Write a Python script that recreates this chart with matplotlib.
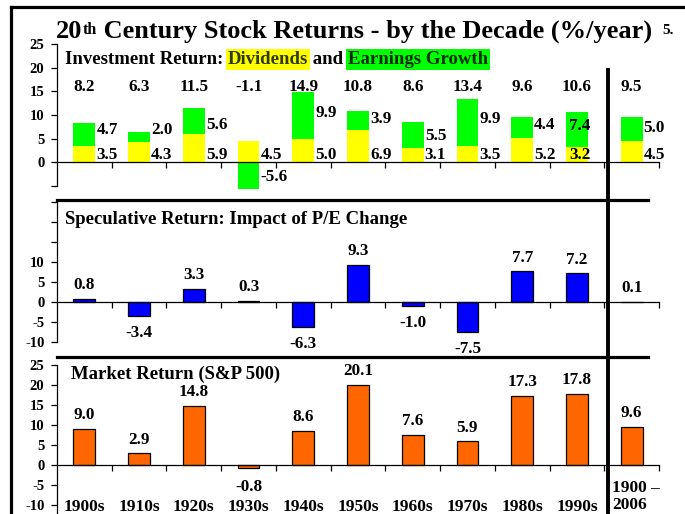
import matplotlib
matplotlib.use('Agg')
import matplotlib.pyplot as plt
from matplotlib.lines import Line2D

# ---------------- data ----------------
decades = ['1900s', '1910s', '1920s', '1930s', '1940s', '1950s', '1960s',
           '1970s', '1980s', '1990s']
overall_label = '1900 –\n2006'
dividends = [3.5, 4.3, 5.9, 4.5, 5.0, 6.9, 3.1, 3.5, 5.2, 3.2, 4.5]
earnings_growth = [4.7, 2.0, 5.6, -5.6, 9.9, 3.9, 5.5, 9.9, 4.4, 7.4, 5.0]
investment_total = [8.2, 6.3, 11.5, -1.1, 14.9, 10.8, 8.6, 13.4, 9.6, 10.6, 9.5]
speculative = [0.8, -3.4, 3.3, 0.3, -6.3, 9.3, -1.0, -7.5, 7.7, 7.2, 0.1]
market = [9.0, 2.9, 14.8, -0.8, 8.6, 20.1, 7.6, 5.9, 17.3, 17.8, 9.6]

# label placement (layout only)
earn_label_y = [6.8, 6.8, 7.8, -3.2, 10.4, 9.1, 5.5, 9.1, 7.8, 7.6, 7.2]

plt.rcParams['font.family'] = ['Liberation Serif', 'DejaVu Serif']
plt.rcParams['font.weight'] = 'bold'

W, H = 685, 514
fig = plt.figure(figsize=(W / 100, H / 100), dpi=100)
fig.patch.set_facecolor('white')


def fx(px):
    return px / W


def fy(py):
    return 1 - py / H


YELLOW = '#FFFF00'
GREEN = '#00FF00'
BLUE = '#0000FF'
ORANGE = '#FF6600'

n = len(dividends)
xs = list(range(n))
bw = 0.40
VAL_FS = 12.3
TICK_FS = 10.5
SUB_FS = 13.5


def setup(ax, ylim, yticks, ylabels, bounds):
    ax.set_xlim(-0.5, 10.5)
    ax.set_ylim(*ylim)
    ax.set_facecolor('none')
    for s in ['top', 'right']:
        ax.spines[s].set_visible(False)
    ax.spines['bottom'].set_position(('data', 0))
    ax.spines['left'].set_bounds(*bounds)
    for s in ['bottom', 'left']:
        ax.spines[s].set_linewidth(0.9)
    ax.set_xticks([k + 0.5 for k in range(11)])
    ax.set_xticklabels([])
    ax.tick_params(axis='x', direction='out', length=4, width=0.9)
    ax.set_yticks(yticks)
    ax.set_yticklabels(ylabels, fontsize=TICK_FS, fontweight='bold')
    ax.tick_params(axis='y', direction='out', length=4, width=0.9, pad=5)


# ---------------- panel 1 ----------------
ax1 = fig.add_axes([fx(57), fy(190.6), 602 / W, 146.6 / H])
setup(ax1, (-6, 25), list(range(-5, 26, 5)),
      [''] + [str(v) for v in range(0, 26, 5)], (-5, 25))
ax1.bar(xs, dividends, width=bw, color=YELLOW, edgecolor='none', zorder=2)
earn_bottom = [d if e >= 0 else 0 for d, e in zip(dividends, earnings_growth)]
ax1.bar(xs, earnings_growth, width=bw, bottom=earn_bottom, color=GREEN,
        edgecolor='none', zorder=2)
for i in xs:
    dx = 0.22 if i != 9 else -0.14
    ax1.text(i + dx, earn_label_y[i], f'{earnings_growth[i]:.1f}', ha='left',
             va='center', fontsize=VAL_FS, zorder=5)
    ax1.text(i + dx, 1.6, f'{dividends[i]:.1f}', ha='left', va='center',
             fontsize=VAL_FS, zorder=5)
    ax1.text(i, 16.0, f'{investment_total[i]:.1f}', ha='center', va='center',
             fontsize=VAL_FS)

# ---------------- panel 2 ----------------
ax2 = fig.add_axes([fx(57), fy(342), 602 / W, 142 / H])
setup(ax2, (-10, 25.5), list(range(-10, 26, 5)),
      [str(v) for v in range(-10, 11, 5)] + ['', '', ''], (-10, 25.5))
ax2.bar(xs, speculative, width=bw, color=BLUE, edgecolor='black',
        linewidth=0.9, zorder=2)
for i in xs:
    v = speculative[i]
    y = v + 3.4 if v >= 0 else v - 4.3
    ax2.text(i, y, f'{v:.1f}', ha='center', va='center', fontsize=VAL_FS)

# ---------------- panel 3 ----------------
ax3 = fig.add_axes([fx(57), fy(505), 602 / W, 140 / H])
setup(ax3, (-10, 25), list(range(-10, 26, 5)),
      [str(v) for v in range(-10, 26, 5)], (-12, 25))
ax3.bar(xs, market, width=bw, color=ORANGE, edgecolor='black',
        linewidth=0.9, zorder=2)
for i in xs:
    v = market[i]
    y = v + 3.4 if v >= 0 else v - 4.7
    ax3.text(i, y, f'{v:.1f}', ha='center', va='center', fontsize=VAL_FS)
for i, lab in enumerate(decades):
    ax3.text(i, -10.6, lab, ha='center', va='center', fontsize=12.5,
             clip_on=False)
ax3.text(9.64, -7.8, overall_label, ha='left', va='center', fontsize=12.5,
         linespacing=1.1, clip_on=False)

# ---------------- titles ----------------
t0 = fig.text(fx(56), fy(38), '20', fontsize=19, va='baseline')
t1 = ax1.annotate('th', xy=(1, 0.93), xycoords=t0, va='top', ha='left',
                  fontsize=11.5)
ax1.annotate(' Century Stock Returns - by the Decade (%/year)', xy=(1, 0),
             xycoords=(t1, t0), va='bottom', ha='left', fontsize=19)
fig.text(fx(662), fy(31), '5.', fontsize=11, va='center')

s0 = fig.text(fx(65), fy(64), 'Investment Return: ', fontsize=SUB_FS,
              va='baseline')
s1 = ax1.annotate('Dividends', xy=(1, 0), xycoords=s0, va='bottom',
                  fontsize=SUB_FS, color='#2E3A00',
                  bbox=dict(facecolor=YELLOW, edgecolor='none', pad=1.5))
s2 = ax1.annotate(' and ', xy=(1, 0), xycoords=s1, va='bottom',
                  fontsize=SUB_FS)
ax1.annotate('Earnings Growth', xy=(1, 0), xycoords=s2, va='bottom',
             fontsize=SUB_FS, color='#002A00',
             bbox=dict(facecolor=GREEN, edgecolor='none', pad=1.5))

fig.text(fx(65), fy(224), 'Speculative Return: Impact of P/E Change',
         fontsize=SUB_FS, va='baseline')
fig.text(fx(71), fy(379), 'Market Return (S&P 500)', fontsize=SUB_FS,
         va='baseline')

# ---------------- decorative lines ----------------
fig.canvas.draw()
inv = fig.transFigure.inverted()
xdiv = inv.transform(ax1.transData.transform((9.57, 0)))[0]
fig.add_artist(Line2D([xdiv, xdiv], [fy(68), 0], color='black', lw=2.8,
                      transform=fig.transFigure, solid_capstyle='butt'))
for py in (200, 357):
    fig.add_artist(Line2D([fx(57), fx(648)], [fy(py), fy(py)], color='black',
                          lw=2.3, transform=fig.transFigure))
fig.add_artist(Line2D([fx(11), 1], [fy(7), fy(7)], color='black', lw=2.3,
                      transform=fig.transFigure))
fig.add_artist(Line2D([fx(11), fx(11)], [fy(7), 0], color='black', lw=2.3,
                      transform=fig.transFigure))

fig.savefig('out.png', dpi=100)
